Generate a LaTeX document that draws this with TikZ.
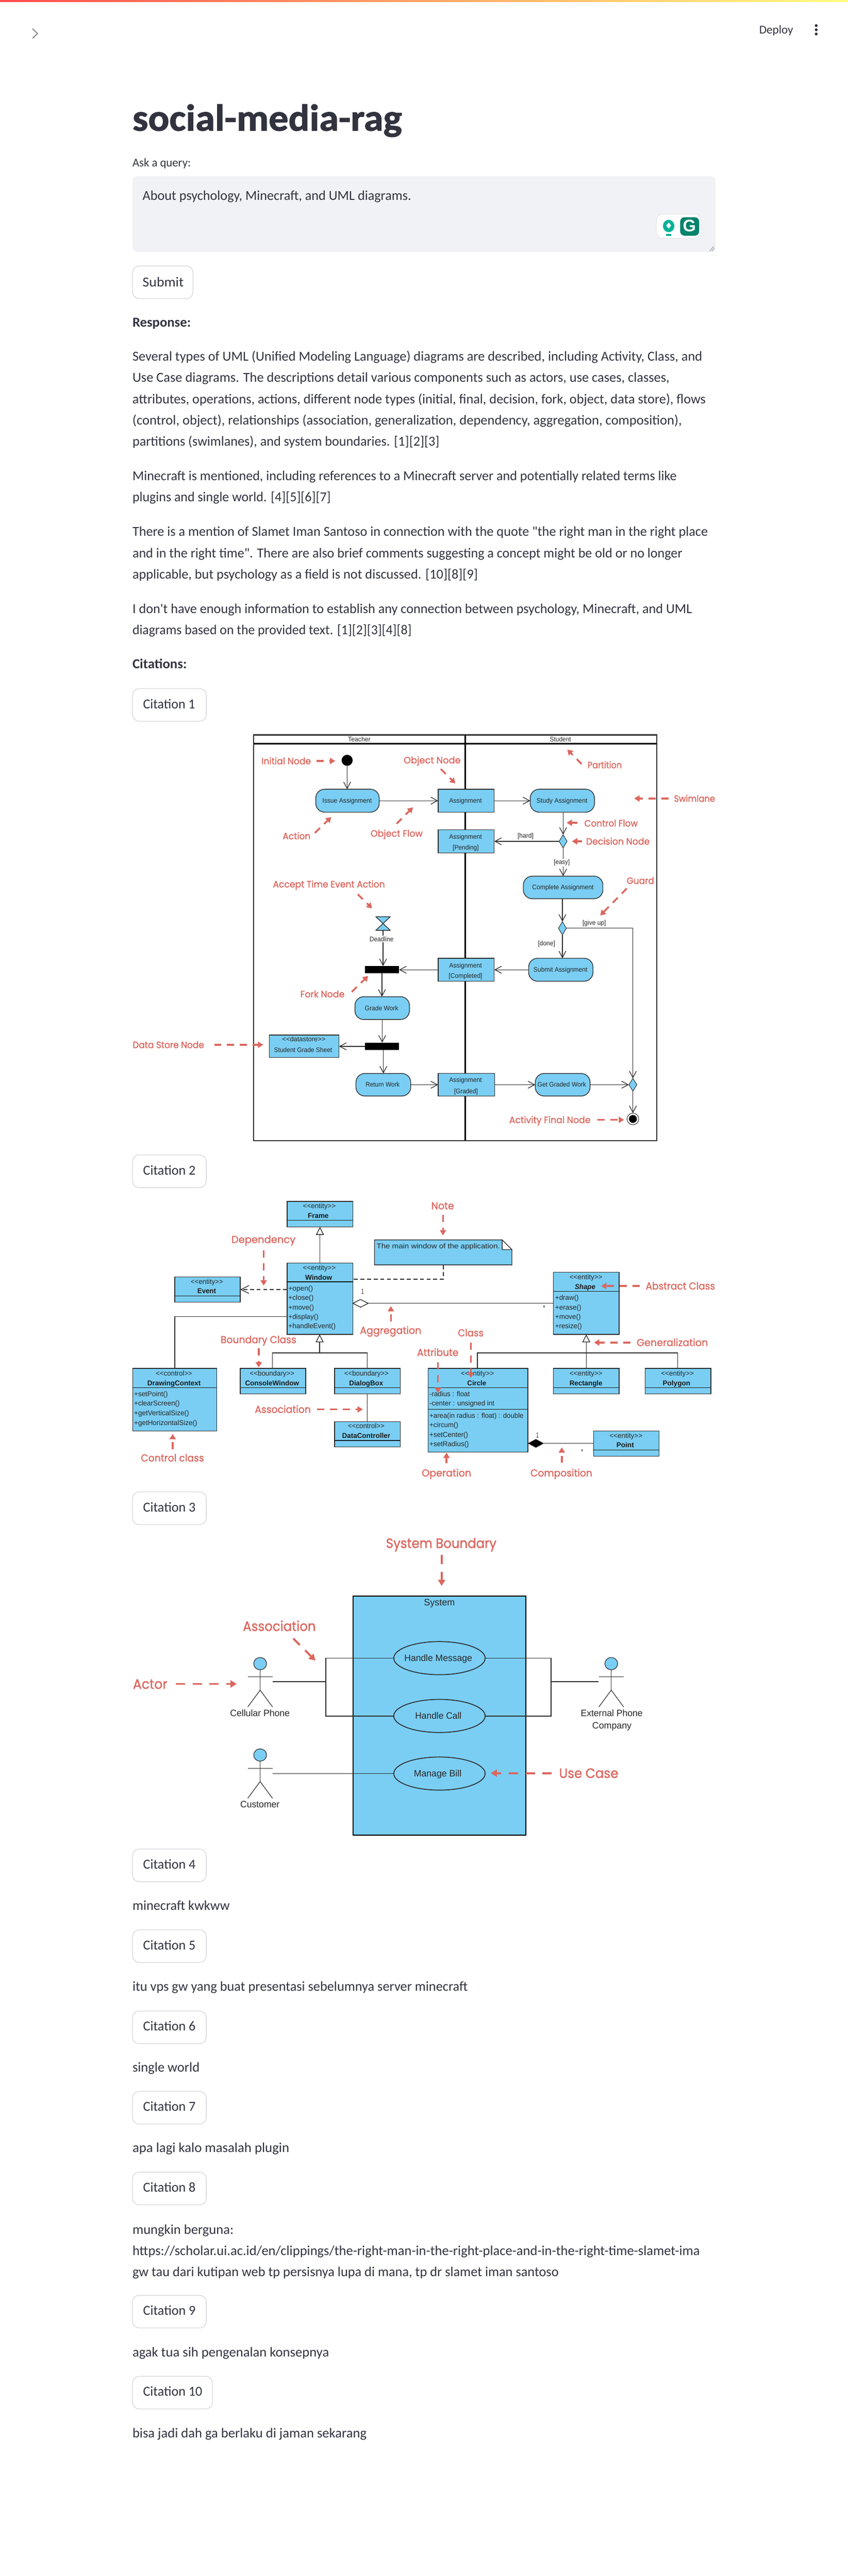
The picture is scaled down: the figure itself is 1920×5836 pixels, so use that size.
\documentclass[tikz,border=0pt]{standalone}
\usepackage{fontspec}
\usepackage{graphicx}
\usetikzlibrary{arrows.meta,shapes.geometric,calc}
\newfontfamily\bodyf{Carlito}
\newfontfamily\titlef[FakeBold=1.5]{Carlito Bold}
\newfontfamily\umlf{Liberation Sans}
\newfontfamily\redf[FakeBold=1.2]{Poppins}
\definecolor{umlblue}{HTML}{7ACEF4}
\definecolor{linec}{HTML}{2E2E2E}
\definecolor{redc}{HTML}{DB675F}
\definecolor{txtc}{HTML}{31333F}
\definecolor{btnc}{HTML}{D6D7DB}
\definecolor{areac}{HTML}{F0F2F6}
\definecolor{bar1}{HTML}{FF4B4B}
\definecolor{bar2}{HTML}{FFFD80}
\definecolor{gteal}{HTML}{00B398}
\definecolor{ggreen}{HTML}{02836C}
\tikzset{
  every node/.style={inner sep=0pt,outer sep=0pt},
  bodyt/.style={font=\bodyf\fontsize{31}{37}\selectfont,text=txtc,yshift=-8pt},
  boldt/.style={font=\bodyf\bfseries\fontsize{31}{37}\selectfont,text=txtc,yshift=-8pt},
  smallt/.style={font=\bodyf\fontsize{27}{32}\selectfont,text=txtc,yshift=-7pt},
  titlet/.style={font=\titlef\fontsize{85}{100}\selectfont,text=txtc},
  actt/.style={font=\umlf\fontsize{15}{18}\selectfont,text=black!85,yshift=-5pt},
  clst/.style={font=\umlf\fontsize{16}{19}\selectfont,text=black!85,yshift=-5.5pt},
  clsb/.style={font=\umlf\bfseries\fontsize{16}{19}\selectfont,text=black!90,yshift=-5.5pt},
  clsi/.style={font=\umlf\bfseries\itshape\fontsize{16}{19}\selectfont,text=black!90,yshift=-5.5pt},
  ucst/.style={font=\umlf\fontsize{21}{25}\selectfont,text=black!85,yshift=-7pt},
  reda/.style={font=\redf\fontsize{21}{25}\selectfont,text=redc,yshift=-7.5pt},
  redb/.style={font=\redf\fontsize{23}{28}\selectfont,text=redc,yshift=-8pt},
  redu/.style={font=\redf\fontsize{31}{37}\selectfont,text=redc,yshift=-11pt},
  bgw/.style={fill=white,inner ysep=2pt},
  ublue/.style={draw=linec,fill=umlblue,line width=1.6pt},
  around/.style={ublue,rounded corners=20pt},
  forkbar/.style={fill=black},
  ddiam/.style={shape=diamond,ublue,line width=1.2pt},
  flow/.style={draw=linec,line width=1.5pt,-{Straight Barb[length=15pt,width=16pt]}},
  plainl/.style={draw=linec,line width=1.6pt},
  depl/.style={draw=linec,line width=1.5pt,dash pattern=on 9pt off 6pt},
  gen/.style={draw=linec,line width=1.6pt,-{Triangle[length=18pt,width=18pt,fill=white]}},
  redarrow/.style={draw=redc,line width=4pt,dash pattern=on 16pt off 13pt,-{Triangle[length=12pt,width=14pt]}},
  redarrowu/.style={draw=redc,line width=4.5pt,dash pattern=on 21pt off 17pt,-{Triangle[length=14pt,width=16pt]}},
  btn/.style={draw=btnc,fill=white,line width=1.5pt,rounded corners=15pt},
}
% style, name, x1, x2, y, text
\newcommand\tline[6]{\pgfmathsetmacro\tlW{#4-#3}\pgfmathsetmacro\tlC{(#3+#4)/2}%
  \node[#1,anchor=base] (#2) at (\tlC,#5) {\resizebox{\tlW pt}{\height}{#6}};}
% style, name, x1, y1, x2, y2
\newcommand\umlbox[6]{\node[#1,anchor=north west,minimum width={#5pt-#3pt},minimum height={#6pt-#4pt}] (#2) at (#3,#4) {};}
% name, y: divider of a named box
\newcommand\divd[2]{\draw[draw=black!90,line width=1.6pt] (#1.west |- 0,#2) -- (#1.east |- 0,#2);}
% name, x1,y1,x2,y2
\newcommand\redarr[5]{\coordinate (#1s) at (#2,#3);\coordinate (#1e) at (#4,#5);\draw[redarrow] (#1s) -- (#1e);}
\newcommand\redarru[5]{\coordinate (#1s) at (#2,#3);\coordinate (#1e) at (#4,#5);\draw[redarrowu] (#1s) -- (#1e);}
% name, centre x, head centre y
\newcommand\umlactor[3]{%
  \node[ublue,shape=ellipse,minimum width=29pt,minimum height=28pt,line width=1.4pt] (#1) at (#2,#3) {};
  \coordinate (#1ar) at ($(#1.south)+(0,16)$);
  \coordinate (#1hip) at ($(#1.south)+(0,46)$);
  \draw[plainl,line width=1.4pt] (#1.south) -- (#1hip);
  \draw[plainl,line width=1.4pt] ($(#1ar)+(-28,0)$) -- ($(#1ar)+(28,0)$);
  \draw[plainl,line width=1.4pt] ($(#1hip)+(-28,38)$) -- (#1hip) -- ($(#1hip)+(28,38)$);}
\begin{document}
\begin{tikzpicture}[x=1pt,y=-1pt]
\path[use as bounding box,fill=white] (0,0) rectangle (1920,5836);
% ---- app chrome
\shade[left color=bar1,right color=bar2] (0,0) rectangle (1920,4.5);
\coordinate (chevA) at (73.5,65);\coordinate (chevB) at (85,76);\coordinate (chevC) at (73.5,87);
\draw[draw=black!45,line width=2.4pt,line join=round] (chevA) -- (chevB) -- (chevC);
\tline{smallt}{deploy}{1719}{1796}{70}{Deploy}
\node[fill=txtc,shape=circle,minimum size=6.5pt] (dot1) at (1848,58) {};
\node[fill=txtc,shape=circle,minimum size=6.5pt] (dot2) at (1848,67.5) {};
\node[fill=txtc,shape=circle,minimum size=6.5pt] (dot3) at (1848,77) {};
\tline{titlet}{title}{300}{910}{296}{social-media-rag}
\tline{smallt}{asklbl}{300}{432}{370}{Ask a query:}
\umlbox{fill=areac,rounded corners=12pt}{area}{300}{399}{1620}{571}
\tline{bodyt}{query}{323}{931}{446}{About psychology, Minecraft, and UML diagrams.}
\umlbox{fill=white,draw=black!12,line width=1pt,rounded corners=14pt}{gpill}{1486}{485}{1587}{540}
\node[fill=gteal,shape=ellipse,minimum width=26pt,minimum height=28pt] (gbulb) at (1514,512) {};
\node[fill=gteal,minimum width=12pt,minimum height=5pt] (gbase) at (1514,532) {};
\node[fill=white,shape=diamond,minimum width=11pt,minimum height=14pt] (gstar) at (1514,511) {};
\umlbox{fill=ggreen,rounded corners=10pt}{gsq}{1540}{492}{1583}{534}
\node[font=\umlf\bfseries\fontsize{38}{40}\selectfont,text=white] (gg) at (1561,512) {G};
\coordinate (hA) at (1607,569);\coordinate (hB) at (1616,558);\coordinate (hC) at (1612,569);\coordinate (hD) at (1618,562);
\draw[draw=black!50,line width=1pt] (hA) -- (hB) (hC) -- (hD);
\umlbox{btn}{submit}{300}{602.5}{437}{676.5}
\tline{bodyt}{submitt}{323}{416}{641}{Submit}
% ---- response
\tline{boldt}{resp}{300}{432}{733}{Response:}
\tline{bodyt}{p1a}{300}{1590}{810}{Several types of UML (Unified Modeling Language) diagrams are described, including Activity, Class, and}
\tline{bodyt}{p1b}{300}{1516}{858}{Use Case diagrams. The descriptions detail various components such as actors, use cases, classes,}
\tline{bodyt}{p1c}{300}{1598}{906}{attributes, operations, actions, different node types (initial, final, decision, fork, object, data store), flows}
\tline{bodyt}{p1d}{300}{1544}{954}{(control, object), relationships (association, generalization, dependency, aggregation, composition),}
\tline{bodyt}{p1e}{300}{995}{1002}{partitions (swimlanes), and system boundaries. [1][2][3]}
\tline{bodyt}{p2a}{300}{1532}{1080}{Minecraft is mentioned, including references to a Minecraft server and potentially related terms like}
\tline{bodyt}{p2b}{300}{749}{1128}{plugins and single world. [4][5][6][7]}
\tline{bodyt}{p3a}{300}{1603}{1207}{There is a mention of Slamet Iman Santoso in connection with the quote "the right man in the right place}
\tline{bodyt}{p3b}{300}{1545}{1255}{and in the right time". There are also brief comments suggesting a concept might be old or no longer}
\tline{bodyt}{p3c}{300}{1082}{1303}{applicable, but psychology as a field is not discussed. [10][8][9]}
\tline{bodyt}{p4a}{300}{1567}{1381}{I don't have enough information to establish any connection between psychology, Minecraft, and UML}
\tline{bodyt}{p4b}{300}{932}{1429}{diagrams based on the provided text. [1][2][3][4][8]}
\tline{boldt}{cit}{300}{423}{1506}{Citations:}
% ---- citation buttons
\umlbox{btn}{c1}{300}{1560}{467}{1634}\tline{bodyt}{c1t}{324}{442}{1597}{Citation 1}
\umlbox{btn}{c2}{300}{2616.5}{467}{2690.5}\tline{bodyt}{c2t}{324}{443}{2653.5}{Citation 2}
\umlbox{btn}{c3}{300}{3380}{467}{3454}\tline{bodyt}{c3t}{324}{443}{3417}{Citation 3}
\umlbox{btn}{c4}{300}{4189}{467}{4263}\tline{bodyt}{c4t}{324}{443}{4226}{Citation 4}
\umlbox{btn}{c5}{300}{4372}{467}{4446}\tline{bodyt}{c5t}{324}{443}{4409}{Citation 5}
\umlbox{btn}{c6}{300}{4556}{467}{4630}\tline{bodyt}{c6t}{324}{443}{4593}{Citation 6}
\umlbox{btn}{c7}{300}{4738}{467}{4812}\tline{bodyt}{c7t}{324}{443}{4775}{Citation 7}
\umlbox{btn}{c8}{300}{4921}{467}{4995}\tline{bodyt}{c8t}{324}{443}{4958}{Citation 8}
\umlbox{btn}{c9}{300}{5200}{467}{5274}\tline{bodyt}{c9t}{324}{443}{5237}{Citation 9}
\umlbox{btn}{c10}{300}{5383.5}{481}{5457.5}\tline{bodyt}{c10t}{324}{458}{5420.5}{Citation 10}
\tline{bodyt}{t4}{300}{520}{4319}{minecraft kwkww}
\tline{bodyt}{t5}{300}{1059}{4503}{itu vps gw yang buat presentasi sebelumnya server minecraft}
\tline{bodyt}{t6}{300}{452}{4686}{single world}
\tline{bodyt}{t7}{300}{655}{4868}{apa lagi kalo masalah plugin}
\tline{bodyt}{t8a}{300}{529}{5053}{mungkin berguna:}
\tline{bodyt}{t8b}{300}{1585}{5101}{https://scholar.ui.ac.id/en/clippings/the-right-man-in-the-right-place-and-in-the-right-time-slamet-ima}
\tline{bodyt}{t8c}{300}{1265}{5149}{gw tau dari kutipan web tp persisnya lupa di mana, tp dr slamet iman santoso}
\tline{bodyt}{t9}{300}{745}{5331}{agak tua sih pengenalan konsepnya}
\tline{bodyt}{t10}{300}{830}{5514}{bisa jadi dah ga berlaku di jaman sekarang}
% ---- ACTIVITY DIAGRAM
\umlbox{draw=black!80,line width=2.6pt}{frame}{574.6}{1665}{1487}{2584}
\coordinate (hdA) at (574.6,1685);\coordinate (hdB) at (1487,1685);
\coordinate (midA) at (1053.8,1665);\coordinate (midB) at (1053.8,2584);
\draw[draw=black,line width=3.2pt] (hdA) -- (hdB);
\draw[draw=black,line width=3.2pt] (midA) -- (midB);
\tline{actt}{teacher}{788}{839}{1675.5}{Teacher}
\tline{actt}{student}{1245}{1293}{1675.5}{Student}
\node[fill=black,shape=circle,minimum size=25pt] (init) at (786,1722.5) {};
\umlbox{around}{issue}{715}{1788}{858.6}{1840}
\umlbox{ublue}{asg}{992}{1788}{1119}{1840}
\umlbox{around}{study}{1200.6}{1788}{1346}{1840}
\umlbox{ublue}{pend}{992}{1880}{1119}{1932}
\node[ddiam,minimum width=18pt,minimum height=30pt] (dec1) at (1275,1906) {};
\umlbox{around}{compl}{1185}{1985}{1365}{2036}
\node[ddiam,minimum width=18pt,minimum height=30pt] (dec2) at (1273.4,2103) {};
\umlbox{around}{subm}{1197}{2171}{1342.6}{2223}
\umlbox{ublue}{compd}{992}{2171}{1119}{2223}
\node[anchor=center,minimum width=33pt,minimum height=31pt] (hour) at (867.3,2092.3) {};
\draw[ublue,line join=round] (hour.north west) -- (hour.north east) -- (hour.south west) -- (hour.south east) -- cycle;
\umlbox{forkbar}{fork1}{826}{2188.7}{903.6}{2205}
\umlbox{around}{grade}{803.7}{2258}{927}{2309.7}
\umlbox{forkbar}{fork2}{826}{2362}{903.6}{2379}
\umlbox{ublue}{store}{609.5}{2345}{767.5}{2396}
\umlbox{around}{ret}{806}{2432}{930}{2483}
\umlbox{ublue}{grad}{992}{2432}{1120}{2483}
\umlbox{around}{get}{1212}{2432}{1336}{2483}
\node[ddiam,minimum width=18pt,minimum height=29pt] (dec3) at (1433,2457.5) {};
\node[draw=linec,fill=white,shape=circle,minimum size=26.5pt,line width=1.2pt] (final) at (1433,2535) {};
\node[fill=black,shape=circle,minimum size=18pt] (finalc) at (1433,2535) {};
% flows
\draw[flow] (init.south) -- (init.south |- issue.north);
\draw[flow] (issue.east) -- (asg.west);
\draw[flow] (asg.east) -- (study.west);
\draw[flow] (dec1.north |- study.south) -- (dec1.north);
\draw[flow] (dec1.west) -- (pend.east);
\draw[flow] (dec1.south) -- (dec1.south |- compl.north);
\draw[flow] (dec2.north |- compl.south) -- (dec2.north);
\draw[flow] (dec2.south) -- (dec2.south |- subm.north);
\draw[flow] (dec2.east) -- (dec2.east -| dec3.north) -- (dec3.north);
\draw[flow] (subm.west) -- (compd.east);
\draw[flow] (compd.west) -- (compd.west -| fork1.east);
\draw[flow] (hour.south) -- (hour.south |- fork1.north);
\draw[flow] (fork1.south) -- (fork1.south |- grade.north);
\draw[flow] (grade.south) -- (grade.south |- fork2.north);
\draw[flow] (fork2.west) -- (fork2.west -| store.east);
\draw[flow] (ret.north |- fork2.south) -- (ret.north);
\draw[flow] (ret.east) -- (grad.west);
\draw[flow] (grad.east) -- (get.west);
\draw[flow] (get.east) -- (dec3.west);
\draw[flow] (dec3.south) -- (final.north);
% activity texts
\tline{actt}{issuet}{730}{842}{1814}{Issue Assignment}
\tline{actt}{asgt}{1017}{1091}{1814}{Assignment}
\tline{actt}{studyt}{1215}{1330}{1814}{Study Assignment}
\tline{actt}{pendt}{1017}{1091}{1896}{Assignment}
\tline{actt}{pendb}{1025}{1084}{1920}{[Pending]}
\tline{actt}{hardt}{1172}{1208}{1893}{[hard]}
\tline{actt,bgw}{easyt}{1254}{1290}{1953}{[easy]}
\tline{actt}{complt}{1205}{1344}{2010}{Complete Assignment}
\tline{actt}{giveup}{1319}{1372}{2091}{[give up]}
\tline{actt}{done}{1218}{1257}{2137}{[done]}
\tline{actt}{submt}{1208}{1330}{2197}{Submit Assignment}
\tline{actt}{compa}{1017}{1091}{2187}{Assignment}
\tline{actt}{compb}{1016}{1092}{2211}{[Completed]}
\tline{actt,bgw}{deadl}{837}{891}{2128}{Deadline}
\tline{actt}{gradet}{826}{902}{2284}{Grade Work}
\tline{actt}{stora}{639}{737}{2354}{<<datastore>>}
\tline{actt}{storb}{620.6}{752}{2379}{Student Grade Sheet}
\tline{actt}{rett}{828}{905}{2457.5}{Return Work}
\tline{actt}{grada}{1017}{1091}{2447}{Assignment}
\tline{actt}{gradb}{1028}{1082}{2472}{[Graded]}
\tline{actt}{gett}{1217}{1327}{2457.5}{Get Graded Work}
% activity red labels
\tline{reda}{lbInit}{592}{704}{1724}{Initial Node}\redarr{raInit}{717}{1724}{759}{1724}
\tline{reda}{lbObjN}{914}{1043}{1722}{Object Node}\redarr{raObjN}{998}{1742}{1031}{1775}
\tline{reda}{lbPart}{1330.5}{1408}{1733}{Partition}\redarr{raPart}{1317}{1731}{1284.5}{1698}
\tline{reda}{lbSwim}{1526}{1619}{1809}{Swimlane}\redarr{raSwim}{1513.6}{1809}{1436}{1809}
\tline{reda}{lbCtrl}{1323}{1444}{1865}{Control Flow}\redarr{raCtrl}{1307}{1864}{1283}{1864}
\tline{reda}{lbDec}{1327}{1471}{1906}{Decision Node}\redarr{raDec}{1318}{1906}{1295}{1906}
\tline{reda}{lbGuard}{1419}{1481}{1995}{Guard}\redarr{raGuard}{1419}{2013}{1359}{2074}
\tline{reda}{lbAct}{640}{703}{1894}{Action}\redarr{raAct}{713}{1887}{750}{1851}
\tline{reda}{lbObjF}{839}{957}{1888}{Object Flow}\redarr{raObjF}{898}{1866}{935}{1829}
\tline{reda}{lbTime}{618}{871.5}{2003}{Accept Time Event Action}\redarr{raTime}{810}{2026}{842.5}{2058}
\tline{reda}{lbFork}{680}{780}{2252}{Fork Node}\redarr{raFork}{796.5}{2247}{833.6}{2211}
\tline{reda}{lbStore}{300.5}{462}{2367}{Data Store Node}\redarr{raStore}{485}{2367}{596}{2367}
\tline{reda}{lbFinal}{1153}{1337}{2537}{Activity Final Node}\redarr{raFinal}{1353}{2537}{1413}{2537}
% ---- CLASS DIAGRAM
\umlbox{ublue}{fram}{650}{2722}{799}{2779.5}
\umlbox{ublue}{wind}{650}{2861}{799}{3023}
\umlbox{ublue}{evnt}{395.6}{2893}{544}{2950}
\umlbox{ublue}{dctx}{300.5}{3100}{490.7}{3241.5}
\umlbox{ublue}{cons}{544}{3100}{692}{3158}
\umlbox{ublue}{dlog}{757.7}{3100}{906}{3158}
\umlbox{ublue}{dctl}{757.7}{3220.5}{906}{3277.7}
\umlbox{ublue}{shap}{1253}{2882}{1402}{3023}
\umlbox{ublue}{circ}{969}{3100}{1195}{3290}
\umlbox{ublue}{rect}{1253}{3100}{1402}{3158}
\umlbox{ublue}{poly}{1461}{3100}{1609.5}{3158}
\umlbox{ublue}{pont}{1344}{3241.5}{1492.6}{3299}
\divd{fram}{2764.7}\divd{wind}{2904}\divd{evnt}{2935.7}\divd{dctx}{3144}\divd{cons}{3144}\divd{dlog}{3144}\divd{dctl}{3263.4}
\divd{shap}{2925.4}\divd{circ}{3144}\divd{circ}{3193}\divd{rect}{3144}\divd{poly}{3144}\divd{pont}{3284.8}
% note
\node[anchor=north west,minimum width=311pt,minimum height=56.6pt] (note) at (848,2809) {};
\coordinate (foldA) at (1137,2809);\coordinate (foldB) at (1159,2831);\coordinate (foldC) at (1137,2831);
\draw[ublue] (note.north west) -- (foldA) -- (foldB) -- (note.south east) -- (note.south west) -- cycle;
\draw[draw=linec,fill=white,line width=1.6pt] (foldA) -- (foldB) -- (foldC) -- cycle;
% class connectors
\draw[gen] (fram.south |- wind.north) -- (fram.south);
\draw[draw=linec,line width=1.5pt,dash pattern=on 9pt off 6pt,-{Straight Barb[length=18pt,width=18pt]}] (wind.west |- 0,2921.4) -- (evnt.east |- 0,2921.4);
\coordinate (winDep) at (799,2898);\coordinate (noteDep) at (1003.75,2898);
\draw[depl] ($(winDep)+(2,0)$) -- (noteDep) -- (noteDep |- note.south);
\coordinate (winDc) at (650,2982.6);
\draw[plainl] (winDc) -- (winDc -| dctx.north) -- (dctx.north);
\coordinate (jA) at (723.7,3065);\coordinate (jL) at (617,3065);\coordinate (jR) at (831.3,3065);
\draw[plainl] (cons.north -| jL) -- (jL) -- (jR) -- (dlog.north -| jR);
\draw[gen] (jA) -- (jA |- wind.south);
\draw[plainl] (jR |- dlog.south) -- (jR |- dctl.north);
\coordinate (shAg) at (1253,2952.7);
\node[shape=diamond,draw=linec,fill=white,line width=1.6pt,minimum width=34.6pt,minimum height=17.6pt] (agg) at (816.3,2952.7) {};
\draw[plainl] (agg.east) -- (shAg);
\coordinate (kA) at (1327.4,3065);\coordinate (kL) at (1081,3065);\coordinate (kR) at (1534.5,3065);
\draw[plainl] (circ.north -| kL) -- (kL) -- (kR) -- (poly.north -| kR);
\draw[gen] (rect.north -| kA) -- (kA |- shap.south);
\node[shape=diamond,fill=black,draw=black,minimum width=35pt,minimum height=18.8pt] (comp) at (1213.3,3270) {};
\draw[plainl] (comp.east) -- (comp.east -| pont.west);
% class texts
\tline{clst}{framS}{686}{760}{2732.6}{<<entity>>}\tline{clsb}{framT}{697}{744}{2754.5}{Frame}
\tline{clst}{windS}{686}{760}{2872}{<<entity>>}\tline{clsb}{windT}{691}{752}{2894}{Window}
\tline{clst}{wo1}{653}{708.6}{2919}{+open()}
\tline{clst}{wo2}{653}{710}{2940}{+close()}
\tline{clst}{wo3}{653}{711}{2961.6}{+move()}
\tline{clst}{wo4}{653}{721}{2983}{+display()}
\tline{clst}{wo5}{653}{760}{3004.5}{+handleEvent()}
\tline{clst}{evnS}{432}{505}{2904}{<<entity>>}\tline{clsb}{evnT}{447}{489}{2925}{Event}
\tline{clst}{dctS}{353}{435}{3111.6}{<<control>>}\tline{clsb}{dctT}{333.6}{454.6}{3133.5}{DrawingContext}
\tline{clst}{dc1}{303.7}{380}{3158}{+setPoint()}
\tline{clst}{dc2}{303.7}{407}{3179.5}{+clearScreen()}
\tline{clst}{dc3}{303.7}{428}{3201}{+getVerticalSize()}
\tline{clst}{dc4}{303.7}{446.5}{3223}{+getHorizontalSize()}
\tline{clst}{conS}{565.7}{666.6}{3111.6}{<<boundary>>}\tline{clsb}{conT}{555}{677}{3133.5}{ConsoleWindow}
\tline{clst}{dlgS}{779.6}{880}{3111.6}{<<boundary>>}\tline{clsb}{dlgT}{790.7}{867.5}{3133.5}{DialogBox}
\tline{clst}{dtcS}{788}{870.6}{3231}{<<control>>}\tline{clsb}{dtcT}{774.6}{883.6}{3253}{DataController}
\tline{clst}{shpS}{1289.5}{1364}{2893.7}{<<entity>>}\tline{clsi}{shpT}{1301.5}{1348}{2915.6}{Shape}
\tline{clst}{sh1}{1257}{1310.4}{2940}{+draw()}
\tline{clst}{sh2}{1257}{1316}{2961.6}{+erase()}
\tline{clst}{sh3}{1257}{1315}{2983}{+move()}
\tline{clst}{sh4}{1257}{1317.6}{3004.5}{+resize()}
\tline{clst}{cirS}{1043.5}{1118.5}{3111.6}{<<entity>>}\tline{clsb}{cirT}{1058}{1101}{3134}{Circle}
\tline{clst}{ca1}{972.5}{1063.6}{3158}{-radius : float}
\tline{clst}{ca2}{972.5}{1119.4}{3179.5}{-center : unsigned int}
\tline{clst}{co1}{972.5}{1185.4}{3207}{+area(in radius : float) : double}
\tline{clst}{co2}{972.5}{1037.7}{3228.6}{+circum()}
\tline{clst}{co3}{972.5}{1060}{3250}{+setCenter()}
\tline{clst}{co4}{972.5}{1061.8}{3271.4}{+setRadius()}
\tline{clst}{recS}{1289.5}{1364}{3111.6}{<<entity>>}\tline{clsb}{recT}{1289.5}{1364}{3133.5}{Rectangle}
\tline{clst}{polS}{1497}{1571}{3111.6}{<<entity>>}\tline{clsb}{polT}{1500.6}{1563}{3133.5}{Polygon}
\tline{clst}{ponS}{1380}{1454.6}{3252.7}{<<entity>>}\tline{clsb}{ponT}{1395.7}{1435.4}{3274}{Point}
\tline{clst}{notT}{852.8}{1132}{2823.7}{The main window of the application.}
\tline{clst}{m1a}{818}{824}{2926}{1}
\tline{clst}{m1b}{1229.5}{1234.5}{2963}{*}
\tline{clst}{m2a}{1214}{1220}{3251.8}{1}
\tline{clst}{m2b}{1315.5}{1320.5}{3289}{*}
% class red labels
\tline{redb}{lbDep}{524}{669}{2808}{Dependency}\redarr{rbDep}{597}{2833}{597}{2912.5}
\tline{redb}{lbBnd}{499.6}{671}{3035}{Boundary Class}\redarr{rbBnd}{585.8}{3055}{585.8}{3098}
\tline{redb}{lbAsc}{577}{703.7}{3193}{Association}\redarr{rbAsc}{718}{3193}{821.5}{3193}
\tline{redb}{lbCtl}{319}{462}{3303}{Control class}\redarr{rbCtl}{391}{3283}{391}{3248.7}
\tline{redb}{lbAgg}{815}{954}{3014}{Aggregation}\redarr{rbAgg}{885}{2994}{885}{2959}
\tline{redb}{lbNote}{976.5}{1028}{2731.7}{Note}\redarr{rbNote}{1003}{2752}{1003}{2798.7}
\tline{redb}{lbAbs}{1462}{1619}{2913.4}{Abstract Class}\redarr{rbAbs}{1448}{2913.4}{1361}{2913.4}
\tline{redb}{lbGen}{1441.7}{1603}{3041.5}{Generalization}\redarr{rbGen}{1427}{3041.5}{1345}{3041.5}
\tline{redb}{lbCls}{1036.8}{1094.8}{3019.6}{Class}\redarr{rbCls}{1066}{3042}{1066}{3121.4}
\tline{redb}{lbAtt}{944.3}{1038}{3064}{Attribute}\redarr{rbAtt}{991.7}{3086.6}{991.7}{3155.8}
\tline{redb}{lbOpr}{955}{1067}{3337}{Operation}\redarr{rbOpr}{1011}{3315}{1011}{3291}
\tline{redb}{lbCmp}{1201}{1341}{3337}{Composition}\redarr{rbCmp}{1272}{3314}{1272}{3279}
% ---- USE CASE DIAGRAM
\umlbox{draw=black,fill=umlblue,line width=2.4pt}{sys}{799.5}{3616}{1190}{4158}
\tline{ucst}{syst}{960}{1030}{3631}{System}
\node[ublue,shape=ellipse,line width=2pt,minimum width=207pt,minimum height=75pt] (uc1) at (995,3756.5) {};
\node[ublue,shape=ellipse,line width=2pt,minimum width=207pt,minimum height=75pt] (uc2) at (995,3887.5) {};
\node[ublue,shape=ellipse,line width=2pt,minimum width=207pt,minimum height=75pt] (uc3) at (995,4018) {};
\tline{ucst}{uc1t}{915.5}{1069}{3756.5}{Handle Message}
\tline{ucst}{uc2t}{940}{1045}{3887.5}{Handle Call}
\tline{ucst}{uc3t}{937}{1045}{4018}{Manage Bill}
\umlactor{ac1}{589}{3769}
\umlactor{ac2}{1384}{3769}
\umlactor{ac3}{589}{3976}
\coordinate (lrA) at (738,3756.5);\coordinate (lrB) at (738,3887.5);\coordinate (lrM) at (738,3810);\coordinate (ac1h) at (618,3810);
\coordinate (rrA) at (1248,3756.5);\coordinate (rrB) at (1248,3887.5);\coordinate (rrM) at (1248,3810);\coordinate (ac2h) at (1355,3810);
\coordinate (ac3h) at (618,4018);
\draw[plainl,line width=2pt] (uc1.west) -- (lrA) -- (lrB) -- (uc2.west);
\draw[plainl,line width=2pt] (uc1.east) -- (rrA) -- (rrB) -- (uc2.east);
\draw[plainl,line width=2.4pt] (ac1h) -- (lrM);
\draw[plainl,line width=2.4pt] (ac2h) -- (rrM);
\draw[plainl,line width=2pt] (ac3h) -- (uc3.west);
\tline{ucst}{ac1t}{521}{656}{3881}{Cellular Phone}
\tline{ucst}{ac2t}{1315}{1455}{3881}{External Phone}
\tline{ucst}{ac2u}{1341}{1430}{3909}{Company}
\tline{ucst}{ac3t}{544}{633}{4088}{Customer}
\tline{redu}{lbSB}{874}{1124}{3496}{System Boundary}\redarru{ruSB}{1000}{3523}{1000}{3593}
\tline{redu}{lbAs}{550}{715}{3684}{Association}\redarru{ruAs}{664}{3712}{714}{3762}
\tline{redu}{lbAc}{301}{379}{3815}{Actor}\redarru{ruAc}{398}{3815}{536}{3815}
\tline{redu}{lbUC}{1266}{1400}{4017}{Use Case}\redarru{ruUC}{1249}{4017}{1111}{4017}
\end{tikzpicture}
\end{document}
